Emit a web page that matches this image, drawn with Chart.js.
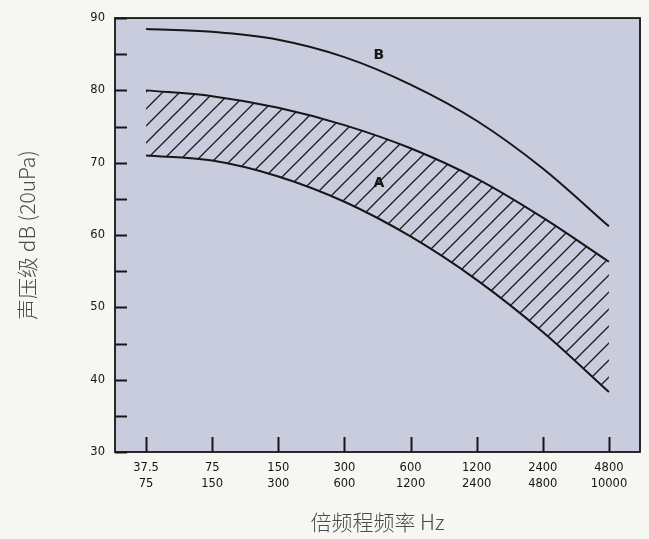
<!DOCTYPE html>
<html>
<head>
<meta charset="utf-8">
<script src="https://cdn.jsdelivr.net/npm/chart.js@4/dist/chart.umd.min.js"></script>
<style>
  html, body { margin: 0; padding: 0; background: #f6f6f2; }
  canvas { display: block; }
</style>
</head>
<body>
<canvas id="grafico" width="649" height="539"></canvas>
<script>
// Bandas de octava: límite inferior / superior (Hz)
const bandaBaja = ['37.5', '75', '150', '300', '600', '1200', '2400', '4800'];
const bandaAlta = ['75', '150', '300', '600', '1200', '2400', '4800', '10000'];

// Nivel de presión sonora (dB)
const curvaB = [88.5, 88.1, 87.0, 84.6, 80.8, 75.8, 69.2, 61.2];
const curvaASup = [80.0, 79.2, 77.6, 75.2, 72.0, 67.8, 62.4, 56.3];
const curvaAInf = [71.0, 70.3, 68.1, 64.6, 59.8, 53.8, 46.6, 38.3];

// Rótulos de las curvas (índice de banda, dB)
const rotulos = [
  { texto: 'B', x: 3.52, y: 84.8 },
  { texto: 'A', x: 3.52, y: 67.1 }
];

const TINTA = '#161616';

// Rayado diagonal para la zona A
function crearRayado() {
  const s = 17;
  const c = document.createElement('canvas');
  c.width = s; c.height = s;
  const g = c.getContext('2d');
  g.strokeStyle = '#1a1a1a';
  g.lineWidth = 1.3;
  g.beginPath();
  g.moveTo(0, s); g.lineTo(s, 0);
  g.moveTo(-2, 2); g.lineTo(2, -2);
  g.moveTo(s - 2, s + 2); g.lineTo(s + 2, s - 2);
  g.stroke();
  return g.createPattern(c, 'repeat');
}

const puntos = arr => arr.map((v, i) => ({ x: i, y: v }));

// Fondo del área, marco y marcas interiores
const marcoPlugin = {
  id: 'marco',
  beforeDatasetsDraw(chart) {
    const { ctx, chartArea: a } = chart;
    ctx.save();
    ctx.fillStyle = '#c9ccdc';
    ctx.fillRect(a.left, a.top, a.right - a.left, a.bottom - a.top);
    ctx.restore();
  },
  afterDatasetsDraw(chart) {
    const { ctx, chartArea: a, scales } = chart;
    ctx.save();
    ctx.strokeStyle = TINTA;
    ctx.lineWidth = 2;
    ctx.beginPath();
    scales.y.ticks.forEach(t => {
      const py = Math.round(scales.y.getPixelForValue(t.value)) + 0.5;
      ctx.moveTo(a.left, py);
      ctx.lineTo(a.left + 12, py);
    });
    scales.x.ticks.forEach(t => {
      const px = Math.round(scales.x.getPixelForValue(t.value)) + 0.5;
      ctx.moveTo(px, a.bottom);
      ctx.lineTo(px, a.bottom - 15);
    });
    ctx.stroke();
    ctx.lineWidth = 1.8;
    ctx.strokeRect(a.left, a.top, a.right - a.left, a.bottom - a.top);

    ctx.fillStyle = TINTA;
    ctx.font = 'bold 14px "DejaVu Sans", sans-serif';
    ctx.textAlign = 'center';
    ctx.textBaseline = 'middle';
    rotulos.forEach(r => {
      ctx.fillText(r.texto, scales.x.getPixelForValue(r.x), scales.y.getPixelForValue(r.y));
    });
    ctx.restore();
  }
};

const fuenteTicks = { family: '"DejaVu Sans", sans-serif', size: 11.5, lineHeight: 1.4 };
const fuenteTitulo = { family: '"Noto Sans CJK SC", sans-serif', size: 21, weight: '300' };

new Chart(document.getElementById('grafico'), {
  type: 'line',
  data: {
    datasets: [
      {
        data: puntos(curvaB),
        borderColor: TINTA,
        borderWidth: 2,
        fill: false
      },
      {
        data: puntos(curvaASup),
        borderColor: TINTA,
        borderWidth: 2,
        backgroundColor: crearRayado(),
        fill: '+1'
      },
      {
        data: puntos(curvaAInf),
        borderColor: TINTA,
        borderWidth: 2,
        fill: false
      }
    ]
  },
  options: {
    responsive: false,
    animation: false,
    layout: { padding: { top: 15, right: 9, left: 0, bottom: 0 } },
    elements: {
      point: { radius: 0 },
      line: { cubicInterpolationMode: 'monotone' }
    },
    plugins: {
      legend: { display: false },
      tooltip: { enabled: false }
    },
    scales: {
      x: {
        type: 'linear',
        min: -0.47,
        max: 7.47,
        afterBuildTicks: scale => { scale.ticks = bandaBaja.map((_, i) => ({ value: i })); },
        afterFit: scale => { scale.height = 87; },
        grid: { display: false, drawTicks: false },
        border: { display: false },
        ticks: {
          padding: 8,
          color: '#151515',
          font: fuenteTicks,
          maxRotation: 0,
          callback: v => [bandaBaja[v], bandaAlta[v]]
        },
        title: {
          display: true,
          text: '倍频程频率 Hz',
          color: '#4a4a4a',
          font: fuenteTitulo,
          padding: { top: 0, bottom: 4 }
        }
      },
      y: {
        min: 30,
        max: 90,
        afterFit: scale => { scale.width = 115; },
        grid: { display: false, drawTicks: false },
        border: { display: false },
        ticks: {
          stepSize: 5,
          padding: 10,
          color: '#151515',
          font: fuenteTicks,
          callback: v => (v % 10 === 0 ? v : '')
        },
        title: {
          display: true,
          text: '声压级 dB (20uPa)',
          color: '#4a4a4a',
          font: fuenteTitulo,
          padding: { top: 14, bottom: 0 }
        }
      }
    }
  },
  plugins: [marcoPlugin]
});
</script>
</body>
</html>
